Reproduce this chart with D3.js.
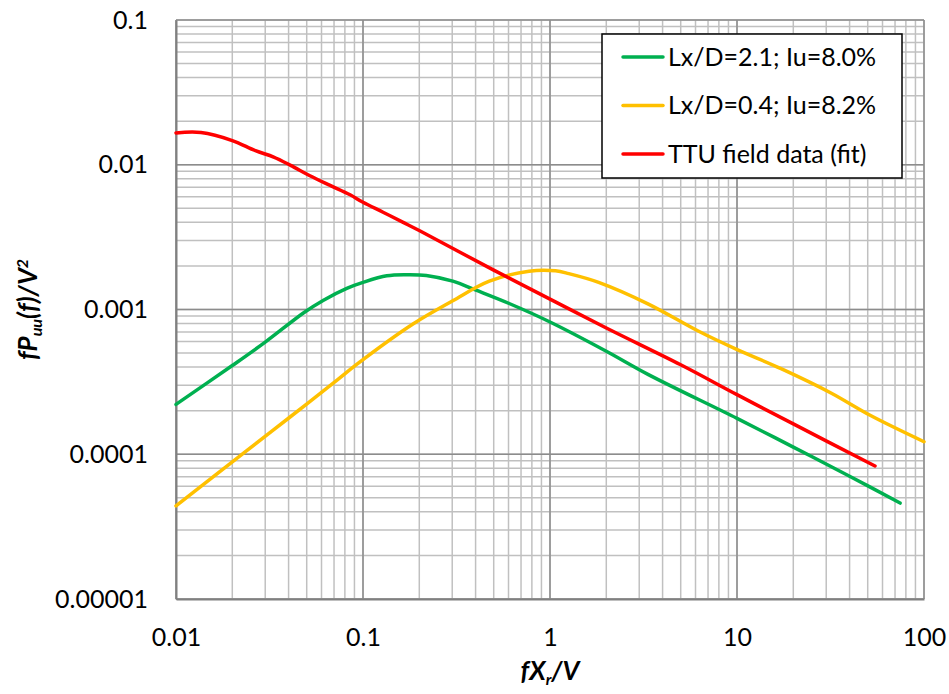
<!DOCTYPE html>
<html>
<head>
<meta charset="utf-8">
<script src="https://cdn.jsdelivr.net/npm/d3@7"></script>
<style>
  body { margin: 0; background: #fff; }
  text { font-family: Lato, "Open Sans", sans-serif; fill: #000; }
</style>
</head>
<body>
<script>
// values
const xTicks = [0.01, 0.1, 1, 10, 100];
const xTickLabels = ['0.01', '0.1', '1', '10', '100'];
const yTicks = [0.00001, 0.0001, 0.001, 0.01, 0.1];
const yTickLabels = ['0.00001', '0.0001', '0.001', '0.01', '0.1'];

const seriesNames = ['Lx/D=2.1; Iu=8.0%', 'Lx/D=0.4; Iu=8.2%', 'TTU field data (fit)'];
const seriesColors = ['#00b050', '#ffc000', '#ff0000'];

const greenX = [0.01, 0.02, 0.03, 0.0482, 0.0615, 0.0819, 0.1, 0.134, 0.17, 0.218, 0.302, 0.402, 0.605, 1, 2, 3.36, 10, 20, 40, 74.5];
const greenY = [0.000221, 0.00041, 0.000595, 0.00095, 0.00116, 0.0014, 0.00154, 0.00171, 0.00174, 0.00172, 0.00157, 0.00136, 0.0011, 0.00082, 0.000515, 0.000355, 0.000177, 0.000112, 0.0000705, 0.000046];

const yellowX = [0.01, 0.0239, 0.0401, 0.0732, 0.0925, 0.185, 0.302, 0.474, 0.773, 1.07, 1.26, 1.82, 3.36, 6.2, 9.96, 17.2, 31.8, 51.8, 100];
const yellowY = [0.000044, 0.000106, 0.000178, 0.000328, 0.000418, 0.000795, 0.00115, 0.00157, 0.00184, 0.00185, 0.00177, 0.00154, 0.00109, 0.00071, 0.00053, 0.00039, 0.000265, 0.000185, 0.000122];

const redX = [0.01, 0.0136, 0.02, 0.0266, 0.0333, 0.041, 0.052, 0.0667, 0.0853, 0.1, 0.128, 0.164, 0.201, 0.5, 1, 2, 5, 10, 20, 54.7];
const redY = [0.0166, 0.0167, 0.0147, 0.0125, 0.0113, 0.0099, 0.0084, 0.0072, 0.0062, 0.0055, 0.0047, 0.0040, 0.0035, 0.00187, 0.00118, 0.000745, 0.000415, 0.000258, 0.000162, 0.000083];

const margin = { top: 20, right: 25, bottom: 95, left: 176 };
const width = 949 - margin.left - margin.right;
const height = 694 - margin.top - margin.bottom;

const svg = d3.select('body').append('svg')
    .attr('width', 949)
    .attr('height', 694)
  .append('g')
    .attr('transform', `translate(${margin.left}, ${margin.top})`);

const x = d3.scaleLog().domain([0.01, 100]).range([0, width]);
const y = d3.scaleLog().domain([0.00001, 0.1]).range([height, 0]);

// minor grid
svg.append('g').selectAll('line').data(x.ticks())
  .enter().append('line')
    .attr('x1', d => x(d)).attr('x2', d => x(d))
    .attr('y1', 0).attr('y2', height)
    .attr('stroke', '#c0c0c0').attr('stroke-width', 1.5);
svg.append('g').selectAll('line').data(y.ticks())
  .enter().append('line')
    .attr('y1', d => y(d)).attr('y2', d => y(d))
    .attr('x1', 0).attr('x2', width)
    .attr('stroke', '#c0c0c0').attr('stroke-width', 1.5);

// major grid
svg.append('g').selectAll('line').data(xTicks)
  .enter().append('line')
    .attr('x1', d => x(d)).attr('x2', d => x(d))
    .attr('y1', 0).attr('y2', height)
    .attr('stroke', '#8c8c8c').attr('stroke-width', 1.5);
svg.append('g').selectAll('line').data(yTicks)
  .enter().append('line')
    .attr('y1', d => y(d)).attr('y2', d => y(d))
    .attr('x1', 0).attr('x2', width)
    .attr('stroke', '#8c8c8c').attr('stroke-width', 1.5);

// axes
const xAxis = d3.axisBottom(x)
    .tickValues(xTicks)
    .tickFormat((d, i) => xTickLabels[i])
    .tickSize(0)
    .tickPadding(29);
const gx = svg.append('g')
    .attr('transform', `translate(0, ${height})`)
    .call(xAxis);
gx.select('.domain').attr('stroke', '#808080').attr('stroke-width', 2);
gx.selectAll('text').style('font-family', 'Lato').style('font-size', '25px');

const yAxis = d3.axisLeft(y)
    .tickValues(yTicks)
    .tickFormat((d, i) => yTickLabels[i])
    .tickSize(0)
    .tickPadding(28);
const gy = svg.append('g').call(yAxis);
gy.select('.domain').attr('stroke', '#808080').attr('stroke-width', 2);
gy.selectAll('text').style('font-family', 'Lato').style('font-size', '25px');

// series
const line = d3.line()
    .x(d => x(d[0]))
    .y(d => y(d[1]))
    .curve(d3.curveCatmullRom.alpha(0.5));

const series = [
  greenX.map((v, i) => [v, greenY[i]]),
  yellowX.map((v, i) => [v, yellowY[i]]),
  redX.map((v, i) => [v, redY[i]])
];

svg.append('g').selectAll('path').data(series)
  .enter().append('path')
    .attr('d', line)
    .attr('fill', 'none')
    .attr('stroke', (d, i) => seriesColors[i])
    .attr('stroke-width', 3.5)
    .attr('stroke-linecap', 'round')
    .attr('stroke-linejoin', 'round');

// legend
const legend = svg.append('g')
    .attr('transform', `translate(${602 - margin.left}, ${34 - margin.top})`);
legend.append('rect')
    .attr('width', 300).attr('height', 144)
    .attr('fill', '#fff')
    .attr('stroke', '#000').attr('stroke-width', 1.5);
const rows = legend.selectAll('.row').data(seriesNames)
  .enter().append('g')
    .attr('class', 'row')
    .attr('transform', (d, i) => `translate(0, ${23 + i * 48.5})`);
rows.append('line')
    .attr('x1', 21).attr('x2', 61)
    .attr('stroke', (d, i) => seriesColors[i])
    .attr('stroke-width', 3.5)
    .attr('stroke-linecap', 'round');
rows.append('text')
    .attr('x', 66).attr('dy', '0.35em')
    .style('font-size', '25px')
    .text(d => d);

// axis titles
const xt = svg.append('text')
    .attr('x', x(1))
    .attr('y', height + 81)
    .attr('text-anchor', 'middle')
    .style('font-size', '26px')
    .style('font-weight', 'bold')
    .style('font-style', 'italic');
xt.append('tspan').text('fX');
xt.append('tspan').attr('dy', 5).style('font-size', '16px').text('r');
xt.append('tspan').attr('dy', -5).text('/V');

const yt = svg.append('text')
    .attr('transform', `translate(${28 - margin.left}, ${height / 2}) rotate(-90)`)
    .attr('text-anchor', 'middle')
    .attr('dy', '0.35em')
    .style('font-size', '26px')
    .style('font-weight', 'bold')
    .style('font-style', 'italic');
yt.append('tspan').text('fP');
yt.append('tspan').attr('dy', 5).style('font-size', '16px').text('uu');
yt.append('tspan').attr('dy', -5).text('(f)/V');
yt.append('tspan').attr('dy', -9).style('font-size', '16px').text('2');
</script>
</body>
</html>
